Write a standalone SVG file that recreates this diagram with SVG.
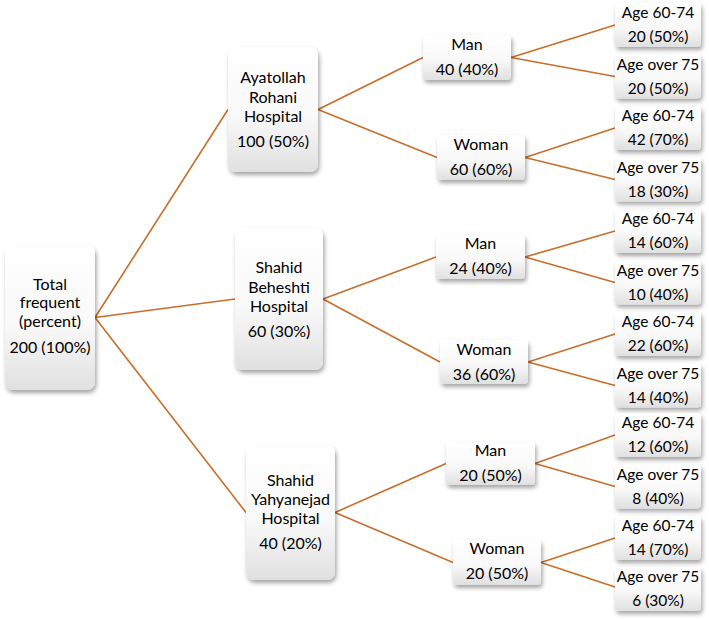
<svg xmlns="http://www.w3.org/2000/svg" width="709" height="619" viewBox="0 0 709 619">
<defs>
<linearGradient id="g" x1="0" y1="0" x2="0" y2="1">
<stop offset="0" stop-color="#ffffff"/>
<stop offset="0.55" stop-color="#f9f9f9"/>
<stop offset="1" stop-color="#e0e0e0"/>
</linearGradient>
<filter id="sh" x="-20%" y="-20%" width="140%" height="140%">
<feDropShadow dx="1.5" dy="3" stdDeviation="2" flood-color="#000" flood-opacity="0.35"/>
</filter>
<style>
.box{fill:url(#g);filter:url(#sh);}
.t{font-family:Lato,"Liberation Sans",sans-serif;font-size:16px;fill:#000;text-anchor:middle;}
.a{font-size:15.5px;}
.c{stroke:#C96D2A;stroke-width:1.6;fill:none;}
</style>
</defs>
<rect width="709" height="619" fill="#ffffff"/>
<g id="connectors" class="c">
<path d="M95 317.5L228 109.5M95 317.5L235 299M95 317.5L246 512.5"/>
<path d="M318 109.5L423 57.5M318 109.5L437 157.5"/>
<path d="M323 299L436 257M323 299L440 362"/>
<path d="M335 512.5L446 463.5M335 512.5L453 562.5"/>
<path d="M511 57.5L615 25M511 57.5L615 76.5"/>
<path d="M525 157.5L615 128M525 157.5L615 179.5"/>
<path d="M525 257L615 231M525 257L615 282.5"/>
<path d="M528 362L615 334M528 362L615 385.5"/>
<path d="M535 463.5L615 435M535 463.5L615 486.5"/>
<path d="M541 562.5L615 538M541 562.5L615 587"/>
</g>
<g id="root"><rect class="box" x="5" y="245" width="90" height="145" rx="8"/>
<text class="t" x="50" y="290">Total</text><text class="t" x="50" y="308">frequent</text><text class="t" x="50" y="327">(percent)</text><text class="t" x="50" y="353">200 (100%)</text></g>
<g id="ayatollah"><rect class="box" x="228" y="47" width="90" height="125" rx="8"/>
<text class="t" x="273" y="83">Ayatollah</text><text class="t" x="273" y="103">Rohani</text><text class="t" x="273" y="122">Hospital</text><text class="t" x="273" y="147">100 (50%)</text></g>
<g id="beheshti"><rect class="box" x="235" y="228" width="88" height="142" rx="8"/>
<text class="t" x="279" y="272.5">Shahid</text><text class="t" x="279" y="292.5">Beheshti</text><text class="t" x="279" y="311.5">Hospital</text><text class="t" x="279" y="336.5">60 (30%)</text></g>
<g id="yahyanejad"><rect class="box" x="246" y="445" width="89" height="135" rx="8"/>
<text class="t" x="290.5" y="486">Shahid</text><text class="t" x="290.5" y="505">Yahyanejad</text><text class="t" x="290.5" y="524">Hospital</text><text class="t" x="290.5" y="549">40 (20%)</text></g>
<g id="man1"><rect class="box" x="423" y="35" width="88" height="45" rx="4"/>
<text class="t" x="467" y="50">Man</text><text class="t" x="467" y="75">40 (40%)</text></g>
<g id="woman1"><rect class="box" x="437" y="135" width="88" height="45" rx="4"/>
<text class="t" x="481" y="150">Woman</text><text class="t" x="481" y="175">60 (60%)</text></g>
<g id="man2"><rect class="box" x="436" y="235" width="89" height="44" rx="4"/>
<text class="t" x="480.5" y="249">Man</text><text class="t" x="480.5" y="274">24 (40%)</text></g>
<g id="woman2"><rect class="box" x="440" y="340" width="88" height="44" rx="4"/>
<text class="t" x="484" y="355">Woman</text><text class="t" x="484" y="380">36 (60%)</text></g>
<g id="man3"><rect class="box" x="446" y="442" width="89" height="43" rx="4"/>
<text class="t" x="490.5" y="456">Man</text><text class="t" x="490.5" y="481">20 (50%)</text></g>
<g id="woman3"><rect class="box" x="453" y="540" width="88" height="45" rx="4"/>
<text class="t" x="497" y="554">Woman</text><text class="t" x="497" y="579">20 (50%)</text></g>
<g id="age1"><rect class="box" x="615" y="3" width="86" height="44" rx="4"/>
<text class="t a" x="658" y="18">Age 60-74</text><text class="t a" x="658" y="42">20 (50%)</text></g>
<g id="age2"><rect class="box" x="615" y="54.5" width="86" height="44" rx="4"/>
<text class="t a" x="658" y="69.5">Age over 75</text><text class="t a" x="658" y="93.5">20 (50%)</text></g>
<g id="age3"><rect class="box" x="615" y="106" width="86" height="44" rx="4"/>
<text class="t a" x="658" y="121">Age 60-74</text><text class="t a" x="658" y="145">42 (70%)</text></g>
<g id="age4"><rect class="box" x="615" y="157.5" width="86" height="44" rx="4"/>
<text class="t a" x="658" y="172.5">Age over 75</text><text class="t a" x="658" y="196.5">18 (30%)</text></g>
<g id="age5"><rect class="box" x="615" y="209" width="86" height="44" rx="4"/>
<text class="t a" x="658" y="224">Age 60-74</text><text class="t a" x="658" y="248">14 (60%)</text></g>
<g id="age6"><rect class="box" x="615" y="260.5" width="86" height="44" rx="4"/>
<text class="t a" x="658" y="275.5">Age over 75</text><text class="t a" x="658" y="299.5">10 (40%)</text></g>
<g id="age7"><rect class="box" x="615" y="312" width="86" height="44" rx="4"/>
<text class="t a" x="658" y="327">Age 60-74</text><text class="t a" x="658" y="351">22 (60%)</text></g>
<g id="age8"><rect class="box" x="615" y="363.5" width="86" height="44" rx="4"/>
<text class="t a" x="658" y="378.5">Age over 75</text><text class="t a" x="658" y="402.5">14 (40%)</text></g>
<g id="age9"><rect class="box" x="615" y="413" width="86" height="44" rx="4"/>
<text class="t a" x="658" y="428">Age 60-74</text><text class="t a" x="658" y="452">12 (60%)</text></g>
<g id="age10"><rect class="box" x="615" y="464.5" width="86" height="44" rx="4"/>
<text class="t a" x="658" y="479.5">Age over 75</text><text class="t a" x="658" y="503.5">8 (40%)</text></g>
<g id="age11"><rect class="box" x="615" y="516" width="86" height="44" rx="4"/>
<text class="t a" x="658" y="531">Age 60-74</text><text class="t a" x="658" y="555">14 (70%)</text></g>
<g id="age12"><rect class="box" x="615" y="567" width="86" height="44" rx="4"/>
<text class="t a" x="658" y="582">Age over 75</text><text class="t a" x="658" y="606">6 (30%)</text></g>
</svg>
